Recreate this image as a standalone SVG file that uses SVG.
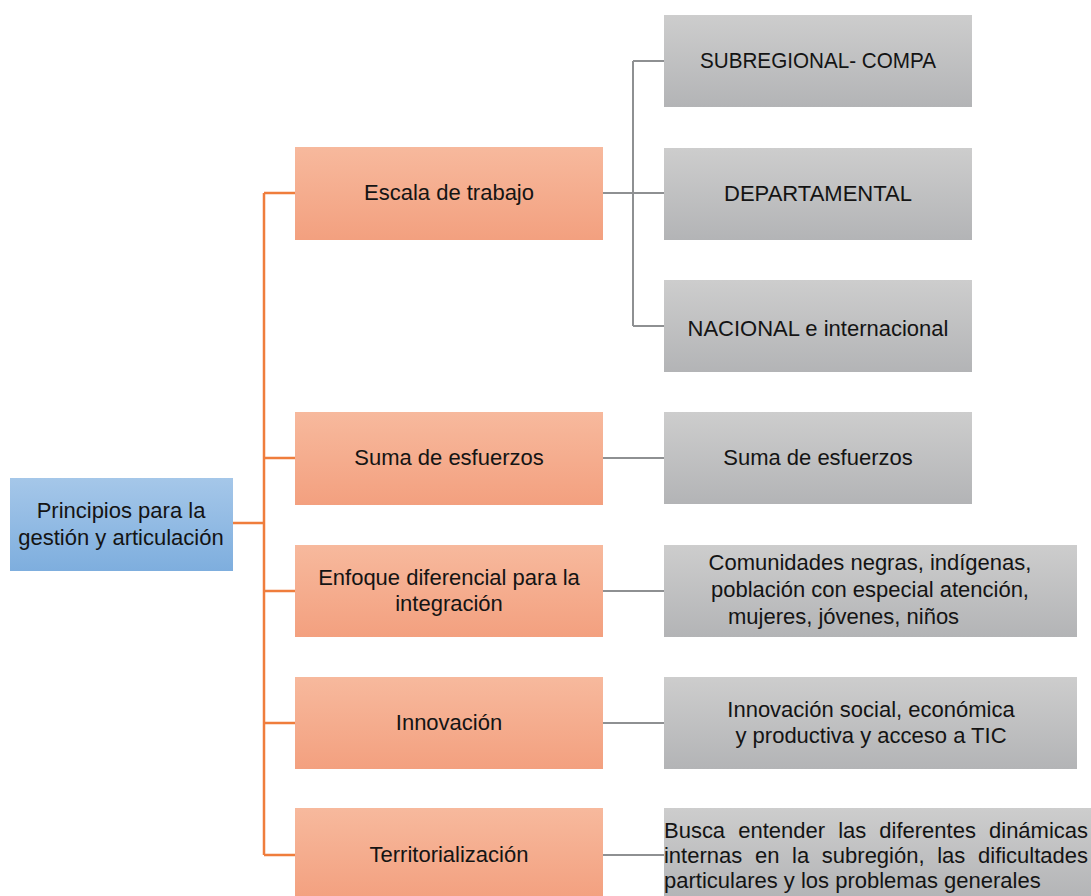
<svg xmlns="http://www.w3.org/2000/svg" width="1091" height="896" viewBox="0 0 1091 896">
<defs>
<linearGradient id="gOr" x1="0" y1="0" x2="0" y2="1"><stop offset="0" stop-color="#f7b99d"/><stop offset="1" stop-color="#f3a07f"/></linearGradient>
<linearGradient id="gGr" x1="0" y1="0" x2="0" y2="1"><stop offset="0" stop-color="#cdcdcd"/><stop offset="1" stop-color="#b3b4b6"/></linearGradient>
<linearGradient id="gBl" x1="0" y1="0" x2="0" y2="1"><stop offset="0" stop-color="#a5c7e9"/><stop offset="1" stop-color="#7eaede"/></linearGradient>
</defs>
<style>
text{font-family:"Liberation Sans",Arial,sans-serif;font-size:22px;fill:#141414}
.c{text-anchor:middle}
.or{fill:url(#gOr)}
.gr{fill:url(#gGr)}
.bl{fill:url(#gBl)}
.lo{stroke:#ef7d3c;stroke-width:2.5;fill:none}
.lg{stroke:#8e9092;stroke-width:2;fill:none}
</style>
<rect width="1091" height="896" fill="#ffffff"/>
<g id="connectors">
<path class="lo" d="M233 523H264M264 193V855M264 193H295M264 458H295M264 591H295M264 723H295M264 855H295"/>
<path class="lg" d="M603 193H664M633 61V326M633 61H664M633 326H664M603 458H664M603 591H664M603 723H664M603 855H664"/>
</g>
<g id="root"><rect class="bl" x="10" y="478" width="223" height="93"/><text class="c" x="121" y="518">Principios para la</text><text class="c" x="121" y="545">gestión y articulación</text></g>
<g id="escala"><rect class="or" x="295" y="147" width="308" height="93"/><text class="c" x="449" y="200">Escala de trabajo</text></g>
<g id="suma"><rect class="or" x="295" y="412" width="308" height="93"/><text class="c" x="449" y="465">Suma de esfuerzos</text></g>
<g id="enfoque"><rect class="or" x="295" y="545" width="308" height="92"/><text class="c" x="449" y="585">Enfoque diferencial para la</text><text class="c" x="449" y="611">integración</text></g>
<g id="innovacion"><rect class="or" x="295" y="677" width="308" height="92"/><text class="c" x="449" y="730">Innovación</text></g>
<g id="territorializacion"><rect class="or" x="295" y="808" width="308" height="92"/><text class="c" x="449" y="862">Territorialización</text></g>
<g id="subregional"><rect class="gr" x="664" y="15" width="308" height="92"/><text class="c" x="818" y="68" textLength="236" lengthAdjust="spacingAndGlyphs">SUBREGIONAL- COMPA</text></g>
<g id="departamental"><rect class="gr" x="664" y="148" width="308" height="92"/><text class="c" x="818" y="201">DEPARTAMENTAL</text></g>
<g id="nacional"><rect class="gr" x="664" y="280" width="308" height="92"/><text class="c" x="818" y="336">NACIONAL e internacional</text></g>
<g id="suma2"><rect class="gr" x="664" y="412" width="308" height="92"/><text class="c" x="818" y="465">Suma de esfuerzos</text></g>
<g id="comunidades"><rect class="gr" x="664" y="545" width="413" height="92"/><text class="c" x="870" y="570">Comunidades negras, indígenas,</text><text class="c" x="870" y="597">población con especial atención,</text><text x="728" y="624">mujeres, jóvenes, niños</text></g>
<g id="innovacion2"><rect class="gr" x="664" y="677" width="413" height="92"/><text class="c" x="871" y="717">Innovación social, económica</text><text class="c" x="871" y="743">y productiva y acceso a TIC</text></g>
<g id="busca"><rect class="gr" x="664" y="808" width="427" height="92"/><text x="664" y="838" word-spacing="7" textLength="424" lengthAdjust="spacing">Busca entender las diferentes dinámicas</text><text x="664" y="863" word-spacing="6.6" textLength="424" lengthAdjust="spacing">internas en la subregión, las dificultades</text><text x="664" y="888">particulares y los problemas generales</text></g>
</svg>
